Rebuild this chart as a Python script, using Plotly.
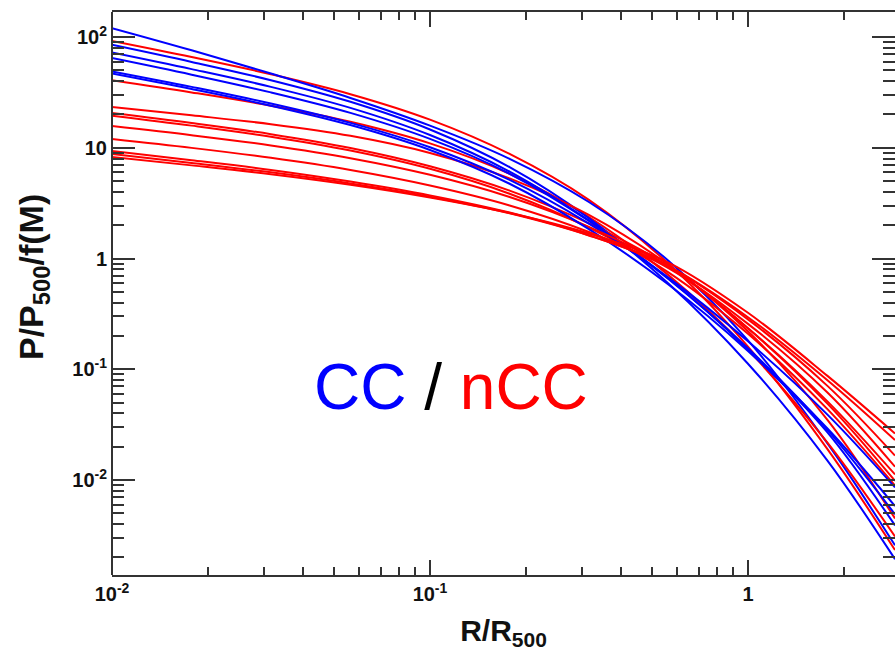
import plotly.graph_objects as go

r = [0.01, 0.0178, 0.0316, 0.0562, 0.1, 0.178, 0.316, 0.562, 1.0, 1.778, 2.9]

# profiles, read as log10(P/P500/f(M)) at the radii above
# cool-core (blue)
cc_1 = [2.08, 1.88, 1.67, 1.45, 1.20, 0.90, 0.51, -0.02, -0.74, -1.67, -2.59]
cc_2 = [1.93, 1.775, 1.61, 1.415, 1.165, 0.825, 0.365, -0.225, -0.95, -1.825, -2.715]
cc_3 = [1.86, 1.71, 1.55, 1.36, 1.115, 0.785, 0.345, -0.18, -0.82, -1.57, -2.41]
cc_4 = [1.81, 1.66, 1.50, 1.315, 1.08, 0.765, 0.34, -0.185, -0.81, -1.5475, -2.31]
cc_5 = [1.69, 1.55, 1.40, 1.225, 1.005, 0.71, 0.315, -0.1725, -0.7475, -1.41, -2.067]
cc_6 = [1.67, 1.53, 1.38, 1.205, 0.98, 0.675, 0.265, -0.235, -0.835, -1.535, -2.235]

# non-cool-core (red)
ncc_1 = [1.964, 1.819, 1.664, 1.484, 1.254, 0.944, 0.529, -0.046, -0.796, -1.721, -2.633]
ncc_2 = [1.61, 1.50, 1.38, 1.235, 1.04, 0.765, 0.375, -0.15, -0.825, -1.6625, -2.51]
ncc_3 = [1.368, 1.293, 1.213, 1.108, 0.953, 0.723, 0.393, -0.057, -0.657, -1.457, -2.347]
ncc_4 = [1.313, 1.223, 1.123, 0.998, 0.833, 0.613, 0.318, -0.0695, -0.63, -1.31, -2.008]
ncc_5 = [1.29, 1.20, 1.10, 0.975, 0.81, 0.585, 0.28, -0.125, -0.68, -1.36, -2.05]
ncc_6 = [1.196, 1.1135, 1.021, 0.906, 0.756, 0.556, 0.286, -0.0765, -0.63, -1.29, -1.95]
ncc_7 = [1.079, 0.999, 0.909, 0.799, 0.659, 0.479, 0.239, -0.086, -0.59, -1.21, -1.88]
ncc_8 = [0.97, 0.8875, 0.80, 0.695, 0.57, 0.415, 0.21, -0.07, -0.53, -1.10, -1.64]
ncc_9 = [0.943, 0.863, 0.778, 0.678, 0.558, 0.408, 0.208, -0.072, -0.55, -1.15, -1.78]
ncc_10 = [0.916, 0.841, 0.761, 0.666, 0.551, 0.411, 0.226, -0.0365, -0.49, -1.06, -1.58]

cc_profiles = [cc_1, cc_2, cc_3, cc_4, cc_5, cc_6]
ncc_profiles = [ncc_1, ncc_2, ncc_3, ncc_4, ncc_5, ncc_6, ncc_7, ncc_8, ncc_9, ncc_10]

x_tickvals = [0.01, 0.1, 1]
x_ticktext = ["10<sup>-2</sup>", "10<sup>-1</sup>", "1"]
y_tickvals = [0.01, 0.1, 1, 10, 100]
y_ticktext = ["10<sup>-2</sup>", "10<sup>-1</sup>", "1", "10", "10<sup>2</sup>"]

BLUE = "#0000ff"
RED = "#ff0000"
AXC = "#333333"
FONT = "Liberation Sans"

fig = go.Figure()
order = []
for i in range(max(len(cc_profiles), len(ncc_profiles))):
    if i < len(ncc_profiles):
        order.append((ncc_profiles[i], RED))
    if i < len(cc_profiles):
        order.append((cc_profiles[i], BLUE))
for prof, col in order:
    fig.add_trace(go.Scatter(x=r, y=[10 ** v for v in prof], mode="lines",
                             line=dict(color=col, width=2, shape="spline", smoothing=1.0),
                             showlegend=False, hoverinfo="skip"))

def minor_vals(lo, hi):
    vals = []
    for e in range(lo, hi + 1):
        for k in range(2, 10):
            vals.append(k * 10.0 ** e)
    return vals

axis_common = dict(type="log", showgrid=False, zeroline=False,
                   linecolor=AXC, linewidth=2, ticks="inside", mirror="allticks",
                   tickcolor=AXC, tickwidth=1.5,
                   tickfont=dict(family=FONT, size=20, color="#111111"))

fig.update_xaxes(**axis_common, showline=True, range=[-2, 0.4624], tickmode="array",
                 tickvals=x_tickvals, ticktext=["<b>%s</b>" % t for t in x_ticktext],
                 ticklen=15,
                 minor=dict(tickmode="array", tickvals=minor_vals(-2, 0), ticks="inside",
                            ticklen=8, tickcolor=AXC, tickwidth=1.5, showgrid=False),
                 title=dict(text="<b>R/R<sub>500</sub></b>",
                            font=dict(family=FONT, size=30, color="#111111"),
                            standoff=16))
fig.update_yaxes(**axis_common, showline=False, range=[-2.858, 2.226], tickmode="array",
                 tickvals=y_tickvals, ticktext=["<b>%s</b>" % t for t in y_ticktext],
                 ticklen=23, ticklabelstandoff=4,
                 minor=dict(tickmode="array", tickvals=minor_vals(-3, 2), ticks="inside",
                            ticklen=12, tickcolor=AXC, tickwidth=1.5, showgrid=False))

# left frame line (right frame falls just outside the picture)
fig.add_shape(type="line", xref="paper", yref="paper", x0=0, x1=0, y0=0, y1=1,
              line=dict(color=AXC, width=2))

fig.add_annotation(xref="paper", yref="paper", x=-0.1304, y=0.53, showarrow=False,
                   textangle=-90, text="<b>P/P<sub>500</sub>/f(M)</b>",
                   font=dict(family=FONT, size=34, color="#111111"))
fig.add_annotation(xref="paper", yref="paper", x=0.433, y=0.266, showarrow=False,
                   text="<span style='color:#0000ff'>CC</span> / <span style='color:#ff0000'>nCC</span>",
                   font=dict(family=FONT, size=64, color="#000000"))

fig.update_layout(width=895, height=654, margin=dict(l=112, r=0, t=12, b=79),
                  plot_bgcolor="white", paper_bgcolor="white")

fig.write_html("out.html")
